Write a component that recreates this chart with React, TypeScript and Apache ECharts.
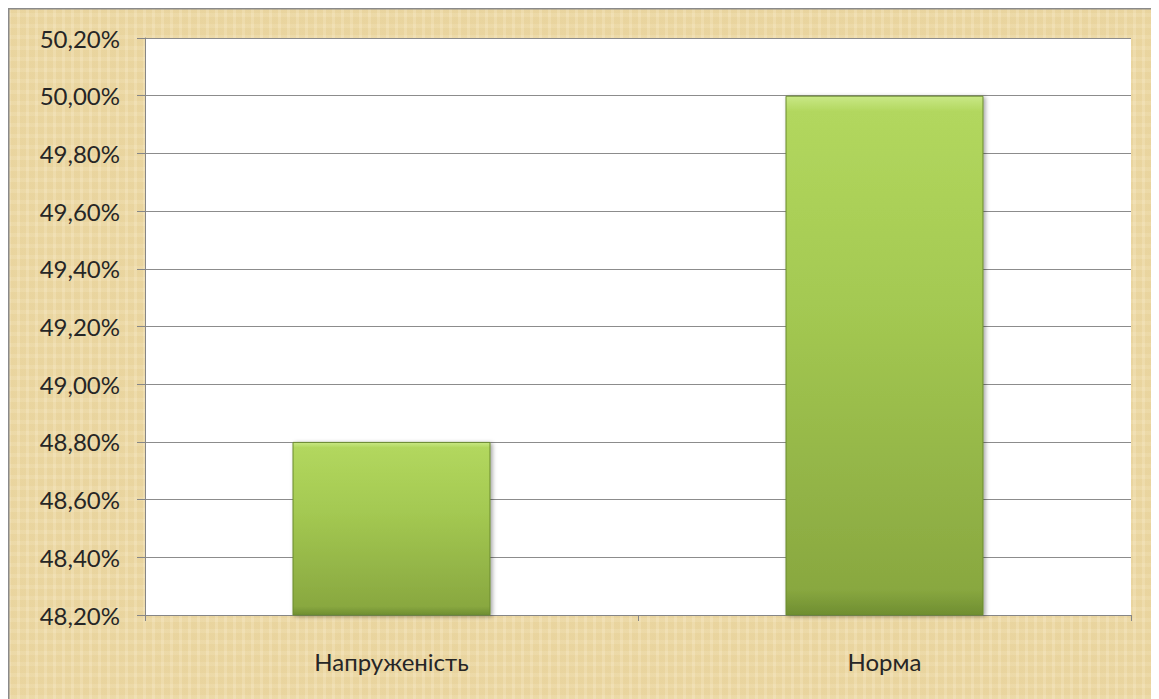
import React, { useEffect, useRef } from "react";
import * as echarts from "echarts";

const categories: string[] = ["Напруженість", "Норма"];
const values: number[] = [48.8, 50.0];
const yMin = 48.2;
const yMax = 50.2;
const yStep = 0.2;

const fmt = (v: number) => v.toFixed(2).replace(".", ",") + "%";

export default function App() {
  const ref = useRef<HTMLDivElement>(null);
  useEffect(() => {
    if (!ref.current) return;
    const chart = echarts.init(ref.current, undefined, { renderer: "svg" });
    chart.setOption({
      animation: false,
      backgroundColor: "transparent",
      textStyle: { fontFamily: "Lato, 'Open Sans', sans-serif" },
      grid: {
        left: 137,
        top: 30,
        right: 28,
        bottom: 84,
        show: true,
        backgroundColor: "#ffffff",
        borderWidth: 0,
      },
      graphic: [
        { type: "line", shape: { x1: 0, y1: 0, x2: 1151, y2: 0 }, style: { stroke: "#8a8a8a", lineWidth: 3 } },
        { type: "line", shape: { x1: 0, y1: 0, x2: 0, y2: 691 }, style: { stroke: "#8a8a8a", lineWidth: 3 } },
      ],
      xAxis: {
        type: "category",
        data: categories,
        boundaryGap: true,
        axisLine: { show: true, lineStyle: { color: "#868686", width: 1 } },
        axisTick: { show: true, length: 6, lineStyle: { color: "#868686" } },
        axisLabel: { color: "#262626", fontSize: 24, margin: 34, fontFamily: "Lato, 'Open Sans', sans-serif" },
        splitLine: { show: false },
      },
      yAxis: {
        type: "value",
        min: yMin,
        max: yMax,
        interval: yStep,
        axisLine: { show: true, lineStyle: { color: "#868686", width: 1 } },
        axisTick: { show: true, length: 8, lineStyle: { color: "#868686" } },
        axisLabel: {
          color: "#262626",
          fontSize: 24,
          margin: 25,
          fontFamily: "Lato, 'Open Sans', sans-serif",
          formatter: (v: number) => fmt(v),
        },
        splitLine: { show: true, lineStyle: { color: "#8c8c8c", width: 1 } },
      },
      series: [
        {
          type: "bar",
          data: values,
          barWidth: 198,
          itemStyle: {
            color: new echarts.graphic.LinearGradient(0, 0, 0, 1, [
              { offset: 0, color: "#c9e886" },
              { offset: 0.03, color: "#b2d75e" },
              { offset: 0.4, color: "#a4c952" },
              { offset: 0.95, color: "#89a840" },
              { offset: 1, color: "#6f8e31" },
            ]),
            borderColor: "#6b8a2e",
            borderWidth: 1,
            shadowColor: "rgba(0,0,0,0.35)",
            shadowBlur: 4,
            shadowOffsetX: 2,
            shadowOffsetY: 1,
          },
        },
      ],
    });
    return () => chart.dispose();
  }, []);

  const bg =
    "repeating-linear-gradient(90deg, rgba(255,255,255,0.10) 0px, rgba(255,255,255,0.10) 3px, rgba(170,140,60,0.04) 3px, rgba(170,140,60,0.04) 9px)," +
    "repeating-linear-gradient(0deg, rgba(255,255,255,0.07) 0px, rgba(255,255,255,0.07) 4px, rgba(170,140,60,0.03) 4px, rgba(170,140,60,0.03) 11px)," +
    "#eedaa6";

  return (
    <div style={{ width: 1151, height: 691, background: bg }}>
      <div ref={ref} style={{ width: 1151, height: 691 }} />
    </div>
  );
}
